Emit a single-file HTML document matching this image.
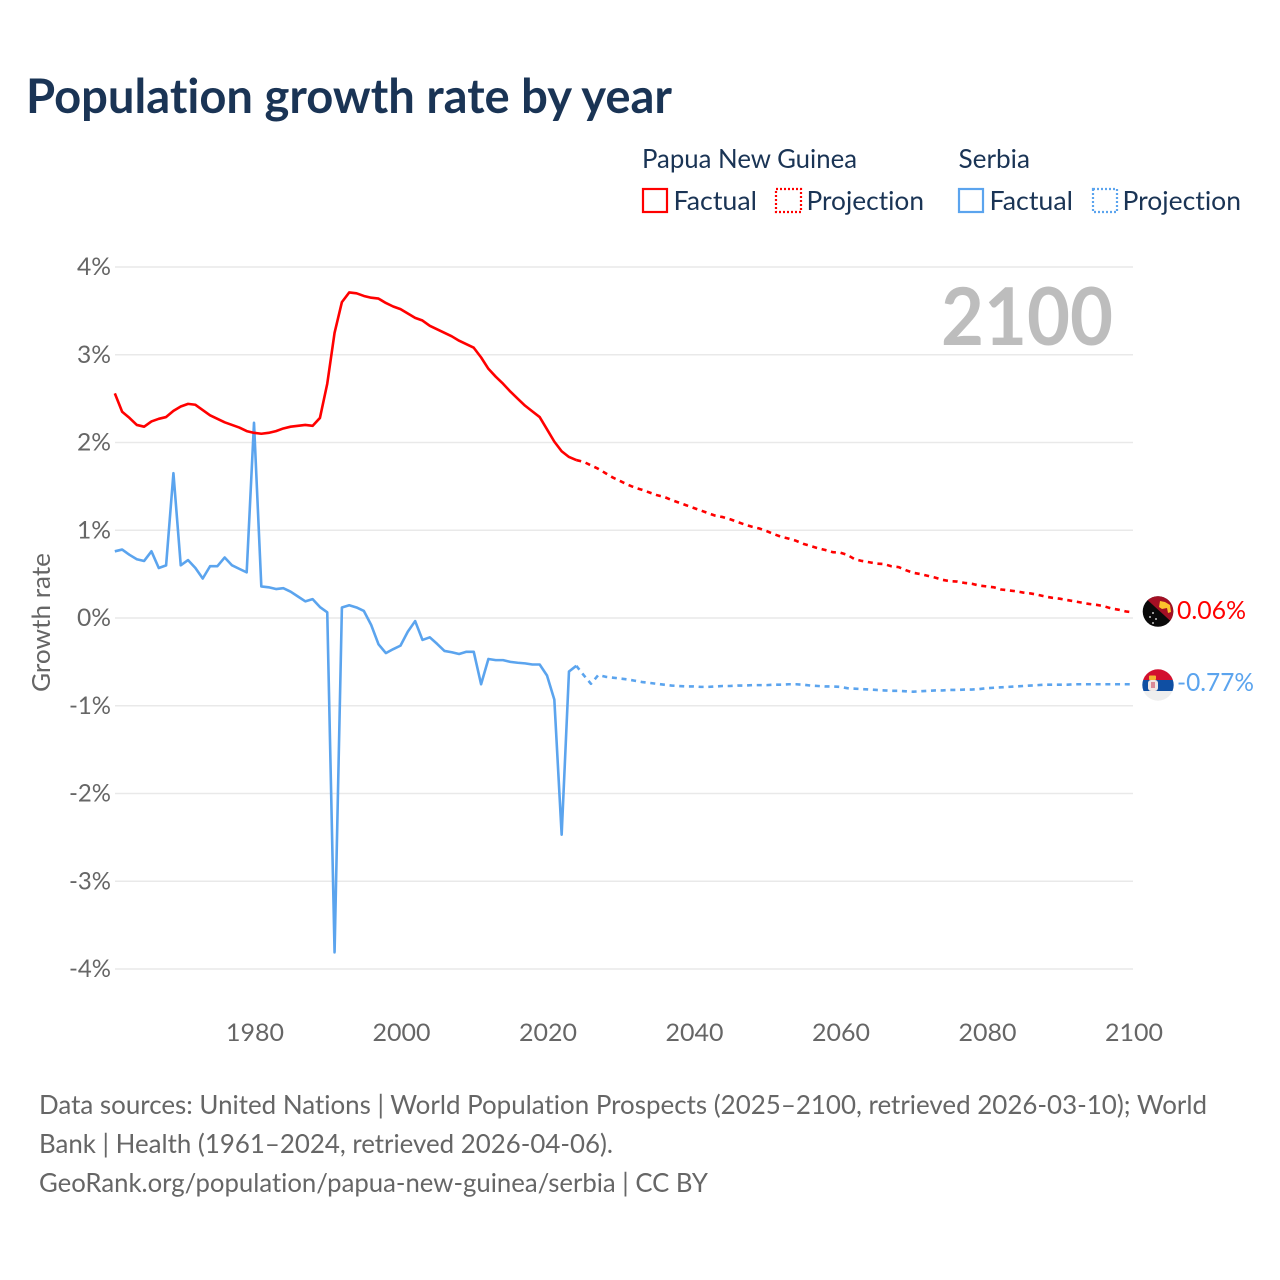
<!DOCTYPE html>
<html lang="en">
<head>
<meta charset="utf-8">
<title>Population growth rate by year</title>
<style>
html,body{margin:0;padding:0;background:#fff;width:1280px;height:1280px;overflow:hidden}
svg{display:block}
text{font-family:"Lato","Carlito","Liberation Sans",sans-serif;font-variant-ligatures:none}
</style>
</head>
<body>
<svg id="chart" xmlns="http://www.w3.org/2000/svg" width="1280" height="1280" viewBox="0 0 1280 1280">
  <text x="26" y="113" font-size="48" font-weight="700" fill="#1a3455" textLength="646" lengthAdjust="spacingAndGlyphs">Population growth rate by year</text>

  <g font-size="26" fill="#1a3455">
    <text x="642" y="168" textLength="215" lengthAdjust="spacingAndGlyphs">Papua New Guinea</text>
    <text x="958.5" y="168" textLength="71.5" lengthAdjust="spacingAndGlyphs">Serbia</text>
    <rect x="643" y="189" width="24" height="23" fill="none" stroke="#ff0000" stroke-width="2.2"/>
    <text x="673.5" y="210" textLength="83.5" lengthAdjust="spacingAndGlyphs">Factual</text>
    <rect x="776" y="189" width="25" height="23" fill="none" stroke="#ff0000" stroke-width="2.2" stroke-dasharray="2 2"/>
    <text x="806.5" y="210" textLength="117.5" lengthAdjust="spacingAndGlyphs">Projection</text>
    <rect x="959" y="189" width="24" height="23" fill="none" stroke="#5ba4ee" stroke-width="2.2"/>
    <text x="989.5" y="210" textLength="83.5" lengthAdjust="spacingAndGlyphs">Factual</text>
    <rect x="1093" y="189" width="24" height="23" fill="none" stroke="#5ba4ee" stroke-width="2.2" stroke-dasharray="2 2"/>
    <text x="1122.5" y="210" textLength="118.5" lengthAdjust="spacingAndGlyphs">Projection</text>
  </g>

  <g id="grid"></g>
  <g id="yticks" font-size="24" fill="#666666" text-anchor="end"></g>
  <g id="xticks" font-size="24" fill="#666666" text-anchor="middle"></g>

  <text transform="translate(50,692) rotate(-90)" font-size="25" fill="#666666" textLength="139" lengthAdjust="spacingAndGlyphs">Growth rate</text>
  <text x="941" y="345" font-size="80" font-weight="700" fill="#bdbdbd" textLength="172" lengthAdjust="spacingAndGlyphs">2100</text>

  <g id="series"></g>

  <g>
    <clipPath id="clip-png"><circle cx="1158" cy="611.5" r="15.3"/></clipPath>
    <g clip-path="url(#clip-png)">
      <rect x="1142" y="596" width="32" height="32" fill="#0a0a0a"/>
      <polygon points="1142,595 1176,626 1176,595" fill="#a30f24"/>
      <polygon points="1160,601 1165,602 1170,605 1171,612 1168,613 1167,608 1162,609 1159,607" fill="#fcc32c"/>
      <circle cx="1153" cy="613" r="0.9" fill="#fff"/>
      <circle cx="1150" cy="617" r="0.9" fill="#fff"/>
      <circle cx="1156" cy="619" r="0.9" fill="#fff"/>
      <circle cx="1153" cy="623" r="0.9" fill="#fff"/>
    </g>
  </g>
  <g>
    <clipPath id="clip-srb"><circle cx="1158" cy="685" r="15.7"/></clipPath>
    <g clip-path="url(#clip-srb)">
      <rect x="1142" y="669" width="32" height="11" fill="#d2102f"/>
      <rect x="1142" y="680" width="32" height="11" fill="#0f4fa3"/>
      <rect x="1142" y="691" width="32" height="11" fill="#eeeeee"/>
      <rect x="1148" y="680" width="10" height="11" rx="3" fill="#efe7e4"/>
      <rect x="1149" y="675.5" width="7" height="4.5" rx="1" fill="#f2b632"/>
      <rect x="1151" y="682" width="4" height="6" fill="#d98a96"/>
    </g>
  </g>

  <text x="1177" y="619" font-size="25" fill="#ff0000" textLength="69" lengthAdjust="spacingAndGlyphs">0.06%</text>
  <text x="1177" y="691" font-size="25" fill="#5ba4ee" textLength="77" lengthAdjust="spacingAndGlyphs">-0.77%</text>

  <g font-size="26" fill="#666666">
    <text x="39" y="1114" textLength="1168" lengthAdjust="spacingAndGlyphs">Data sources: United Nations | World Population Prospects (2025–2100, retrieved 2026-03-10); World</text>
    <text x="39" y="1153" textLength="574" lengthAdjust="spacingAndGlyphs">Bank | Health (1961–2024, retrieved 2026-04-06).</text>
    <text x="39" y="1192" textLength="669" lengthAdjust="spacingAndGlyphs">GeoRank.org/population/papua-new-guinea/serbia | CC BY</text>
  </g>
</svg>
<script>
const yTickValues = [4, 3, 2, 1, 0, -1, -2, -3, -4];
const xTickValues = [1980, 2000, 2020, 2040, 2060, 2080, 2100];
const startYear = 1961;
const lastFactualYear = 2024;

// Percent per year, 1961 to 2024
const pngFactual = [2.56,2.35,2.28,2.20,2.18,2.24,2.27,2.29,2.36,2.41,2.44,2.43,2.37,2.31,2.27,2.23,2.20,2.17,2.13,2.11,
  2.10,2.11,2.13,2.16,2.18,2.19,2.20,2.19,2.28,2.67,3.25,3.60,3.71,3.70,3.67,3.65,3.64,3.59,3.55,3.52,
  3.47,3.42,3.39,3.33,3.29,3.25,3.21,3.16,3.12,3.08,2.97,2.84,2.75,2.67,2.58,2.50,2.42,2.355,2.29,2.15,
  2.01,1.90,1.835,1.80];
// Percent per year, 2025 to 2100
const pngProjection = [1.78,1.74,1.70,1.65,1.60,1.56,1.52,1.485,1.46,1.43,1.40,1.38,1.345,1.315,1.285,1.255,
  1.225,1.195,1.165,1.15,1.125,1.095,1.065,1.04,1.02,0.99,0.955,0.925,0.905,0.88,0.845,0.82,0.795,0.775,0.75,0.745,
  0.72,0.67,0.65,0.635,0.62,0.615,0.59,0.58,0.545,0.515,0.50,0.48,0.46,0.435,0.42,0.415,0.40,0.39,0.37,0.36,
  0.35,0.325,0.315,0.305,0.29,0.28,0.265,0.245,0.23,0.22,0.205,0.19,0.175,0.16,0.15,0.135,0.11,0.095,0.075,0.065];
const serbiaFactual = [0.76,0.78,0.72,0.67,0.65,0.76,0.57,0.60,1.65,0.60,0.66,0.57,0.45,0.59,0.59,0.69,0.60,0.56,0.52,2.225,
  0.36,0.35,0.33,0.34,0.30,0.245,0.19,0.215,0.125,0.065,-3.81,0.12,0.145,0.12,0.08,-0.08,-0.30,-0.40,-0.355,-0.315,
  -0.155,-0.035,-0.25,-0.22,-0.295,-0.375,-0.39,-0.41,-0.385,-0.385,-0.755,-0.467,-0.48,-0.48,-0.50,-0.51,-0.517,-0.53,-0.53,-0.655,
  -0.93,-2.47,-0.61,-0.545];
const serbiaProjection = [-0.65,-0.75,-0.65,-0.67,-0.68,-0.69,-0.70,-0.715,-0.73,-0.74,-0.75,-0.76,-0.77,-0.775,-0.78,-0.78,
  -0.785,-0.785,-0.78,-0.775,-0.775,-0.77,-0.77,-0.765,-0.765,-0.765,-0.76,-0.76,-0.755,-0.755,-0.76,-0.77,-0.775,-0.78,-0.78,-0.785,
  -0.80,-0.805,-0.81,-0.815,-0.82,-0.825,-0.83,-0.83,-0.835,-0.84,-0.835,-0.83,-0.825,-0.825,-0.82,-0.82,-0.815,-0.815,-0.81,-0.80,
  -0.795,-0.79,-0.785,-0.78,-0.775,-0.77,-0.765,-0.76,-0.76,-0.76,-0.76,-0.755,-0.755,-0.755,-0.755,-0.755,-0.755,-0.755,-0.755,-0.755];

const NS = 'http://www.w3.org/2000/svg';
const tickX = year => 255 + (year - 1980) * 7.325;
const xScale = year => 254 + (year - 1980) * 7.325;
const yScale = value => 618 - value * 87.75;
const make = (tag, attrs) => {
  const el = document.createElementNS(NS, tag);
  for (const k in attrs) el.setAttribute(k, attrs[k]);
  return el;
};

const grid = document.getElementById('grid');
const yticks = document.getElementById('yticks');
yTickValues.forEach(v => {
  const line = make('line', {x1: 115, x2: 1133, y1: yScale(v), y2: yScale(v), stroke: '#e9e9e9', 'stroke-width': 1.6});
  
  
  grid.appendChild(line);
  const label = make('text', {x: 111, y: yScale(v) + 8, textLength: v < 0 ? 42 : 34, lengthAdjust: 'spacingAndGlyphs'});
  
  
  label.textContent = v + '%';
  yticks.appendChild(label);
});

const xticks = document.getElementById('xticks');
xTickValues.forEach(y => {
  const label = make('text', {x: tickX(y), y: 1041, textLength: 58, lengthAdjust: 'spacingAndGlyphs'});
  
  
  label.textContent = y;
  xticks.appendChild(label);
});

const pathFrom = (values, firstYear) =>
  values.map((v, i) => (i ? 'L' : 'M') + xScale(firstYear + i).toFixed(2) + ' ' + yScale(v).toFixed(2)).join('');

const series = document.getElementById('series');
const addLine = (values, firstYear, color, dashed) => {
  const attrs = {d: pathFrom(values, firstYear), fill: 'none', stroke: color, 'stroke-width': 2.6, 'stroke-linejoin': 'round'};
  if (dashed) attrs['stroke-dasharray'] = '5 4.7';
  const path = make('path', attrs);
  series.appendChild(path);
  return path;
};

const p1 = addLine(serbiaFactual, startYear, '#5ba4ee', false);


const p2 = addLine([serbiaFactual[serbiaFactual.length - 1]].concat(serbiaProjection), lastFactualYear, '#5ba4ee', true);


const p3 = addLine(pngFactual, startYear, '#ff0000', false);


const p4 = addLine([pngFactual[pngFactual.length - 1]].concat(pngProjection), lastFactualYear, '#ff0000', true);


</script>
</body>
</html>
